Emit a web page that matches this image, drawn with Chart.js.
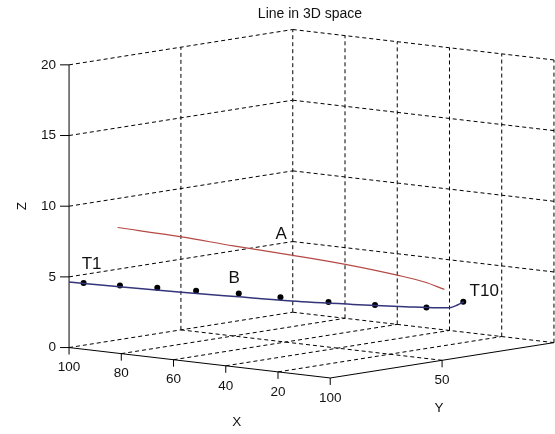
<!DOCTYPE html>
<html><head><meta charset="utf-8">
<script src="https://cdn.jsdelivr.net/npm/chart.js@4/dist/chart.umd.min.js"></script>
<style>html,body{margin:0;padding:0;background:#fff}#wrap{width:555px;height:434px;position:relative}</style>
</head><body><div id="wrap"><canvas id="c"></canvas></div>
<script>
// ---------------- data (3D) ----------------
const chartTitle = 'Line in 3D space';
const xLim = [0, 100], yLim = [0, 100], zLim = [0, 20];
const xTicks = [100, 80, 60, 40, 20];
const yTicks = [100, 50];
const zTicks = [0, 5, 10, 15, 20];

// blue trajectory
const pathX = [100.0, 89.0, 77.4, 65.7, 54.1, 41.5, 30.7, 24.0, 21.5, 19.9, 18.6];
const pathY = [100.0, 89.0, 77.4, 65.7, 54.1, 41.5, 30.7, 24.0, 21.5, 19.9, 18.6];
const pathZ = [4.63, 4.25, 3.86, 3.49, 3.13, 2.85, 2.65, 2.55, 2.55, 2.73, 2.96];

// black markers T1..T10
const markX = [97.0, 89.5, 81.8, 73.8, 65.0, 56.4, 46.5, 36.9, 26.3, 18.7];
const markY = [97.0, 89.5, 81.8, 73.8, 65.0, 56.4, 46.5, 36.9, 26.3, 18.7];
const markZ = [4.55, 4.36, 4.17, 3.92, 3.70, 3.41, 3.03, 2.79, 2.57, 2.96];

// red line A
const redX = [90.0, 76.8, 66.1, 54.5, 43.3, 32.1, 26.7, 22.6];
const redY = [90.0, 76.8, 66.1, 54.5, 43.3, 32.1, 26.7, 22.6];
const redZ = [8.46, 7.75, 7.07, 6.40, 5.71, 4.87, 4.38, 3.85];

// text annotations
const labelText = ['T1', 'B', 'A', 'T10'];
const labelX = [97.4, 67.1, 57.4, 17.4];
const labelY = [97.4, 67.1, 57.4, 17.4];
const labelZ = [5.89, 4.75, 7.84, 3.72];

// ---------------- view (orthographic projection) ----------------
const VIEW = { xx: -2.65, xy: 0.31, yx: -2.27, yy: -0.36, z: 14.4 };
function proj(X, Y, Z) {
  return { x: VIEW.xx * X + VIEW.yx * Y, y: VIEW.xy * X + VIEW.yy * Y + VIEW.z * Z };
}
const toPts = (xs, ys, zs) => xs.map((v, i) => proj(v, ys[i], zs[i]));

const FONT = '"Liberation Sans", Arial, sans-serif';

const box3d = {
  id: 'box3d',
  beforeDatasetsDraw(chart) {
    const ctx = chart.ctx, sx = chart.scales.x, sy = chart.scales.y;
    const px = (X, Y, Z) => { const p = proj(X, Y, Z); return [sx.getPixelForValue(p.x), sy.getPixelForValue(p.y)]; };
    const seg = (a, b) => { ctx.beginPath(); ctx.moveTo(a[0], a[1]); ctx.lineTo(b[0], b[1]); ctx.stroke(); };
    const [x0, x1] = xLim, [y0, y1] = yLim, [z0, z1] = zLim;
    ctx.save();
    ctx.strokeStyle = '#000'; ctx.lineWidth = 1; ctx.setLineDash([4, 3]);
    // back wall X = max
    zTicks.forEach(z => seg(px(x1, y1, z), px(x1, y0, z)));
    yTicks.filter(y => y !== y1).concat([y0]).forEach(y => seg(px(x1, y, z0), px(x1, y, z1)));
    // back wall Y = min
    zTicks.forEach(z => seg(px(x1, y0, z), px(x0, y0, z)));
    xTicks.filter(x => x !== x1).concat([x0]).forEach(x => seg(px(x, y0, z0), px(x, y0, z1)));
    // floor
    xTicks.filter(x => x !== x1).forEach(x => seg(px(x, y1, z0), px(x, y0, z0)));
    yTicks.filter(y => y !== y1).forEach(y => seg(px(x0, y, z0), px(x1, y, z0)));
    ctx.setLineDash([]);
    // solid axes
    seg(px(x1, y1, z0), px(x1, y1, z1));
    seg(px(x1, y1, z0), px(x0, y1, z0));
    seg(px(x0, y1, z0), px(x0, y0, z0));
    // ticks
    xTicks.forEach(x => { const a = px(x, y1, z0); seg(a, [a[0], a[1] + 7]); });
    yTicks.forEach(y => { const a = px(x0, y, z0); seg(a, [a[0], a[1] + 7]); });
    zTicks.forEach(z => { const a = px(x1, y1, z); seg(a, [a[0] - 9, a[1]]); });
    // tick labels
    ctx.fillStyle = '#111';
    ctx.font = '13.5px ' + FONT;
    ctx.textAlign = 'center'; ctx.textBaseline = 'middle';
    xTicks.forEach(x => { const a = px(x, y1, z0); ctx.fillText(String(x), a[0], a[1] + 20); });
    yTicks.forEach(y => { const a = px(x0, y, z0); ctx.fillText(String(y), a[0], a[1] + 20); });
    ctx.textAlign = 'right';
    zTicks.forEach(z => { const a = px(x1, y1, z); ctx.fillText(String(z), a[0] - 13, a[1]); });
    // axis labels
    ctx.textAlign = 'center';
    const xm = px((x0 + x1) / 2, y1, z0);
    ctx.fillText('X', xm[0] + 37, xm[1] + 60);
    const ym = px(x0, (y0 + y1) / 2, z0);
    ctx.fillText('Y', ym[0] - 3, ym[1] + 48);
    const zm = px(x1, y1, (z0 + z1) / 2);
    ctx.save(); ctx.translate(22, zm[1]); ctx.rotate(-Math.PI / 2); ctx.fillText('Z', 0, 0); ctx.restore();
    // title
    ctx.font = '14px ' + FONT;
    ctx.fillText(chartTitle, 310, 14);
    ctx.restore();
  },
  afterDatasetsDraw(chart) {
    const ctx = chart.ctx, sx = chart.scales.x, sy = chart.scales.y;
    ctx.save();
    ctx.fillStyle = '#111';
    ctx.font = '17px ' + FONT;
    ctx.textAlign = 'left'; ctx.textBaseline = 'middle';
    labelText.forEach((t, i) => {
      const p = proj(labelX[i], labelY[i], labelZ[i]);
      ctx.fillText(t, sx.getPixelForValue(p.x), sy.getPixelForValue(p.y));
    });
    ctx.restore();
  }
};

new Chart(document.getElementById('c'), {
  type: 'scatter',
  data: {
    datasets: [
      { label: 'path', data: toPts(pathX, pathY, pathZ), showLine: true, borderColor: '#34347a',
        borderWidth: 1.5, pointRadius: 0, cubicInterpolationMode: 'monotone' },
      { label: 'A', data: toPts(redX, redY, redZ), showLine: true, borderColor: '#b44a44',
        borderWidth: 1.2, pointRadius: 0, cubicInterpolationMode: 'monotone' },
      { label: 'T', data: toPts(markX, markY, markZ), showLine: false, pointRadius: 3,
        pointBackgroundColor: '#000', pointBorderColor: '#000', pointBorderWidth: 0 }
    ]
  },
  options: {
    responsive: true, maintainAspectRatio: false, animation: false,
    layout: { padding: 0 },
    plugins: { legend: { display: false }, tooltip: { enabled: false }, title: { display: false } },
    scales: {
      x: { type: 'linear', min: -558, max: -3, display: false },
      y: { type: 'linear', min: -89, max: 345, display: false }
    }
  },
  plugins: [box3d]
});
</script></body></html>
